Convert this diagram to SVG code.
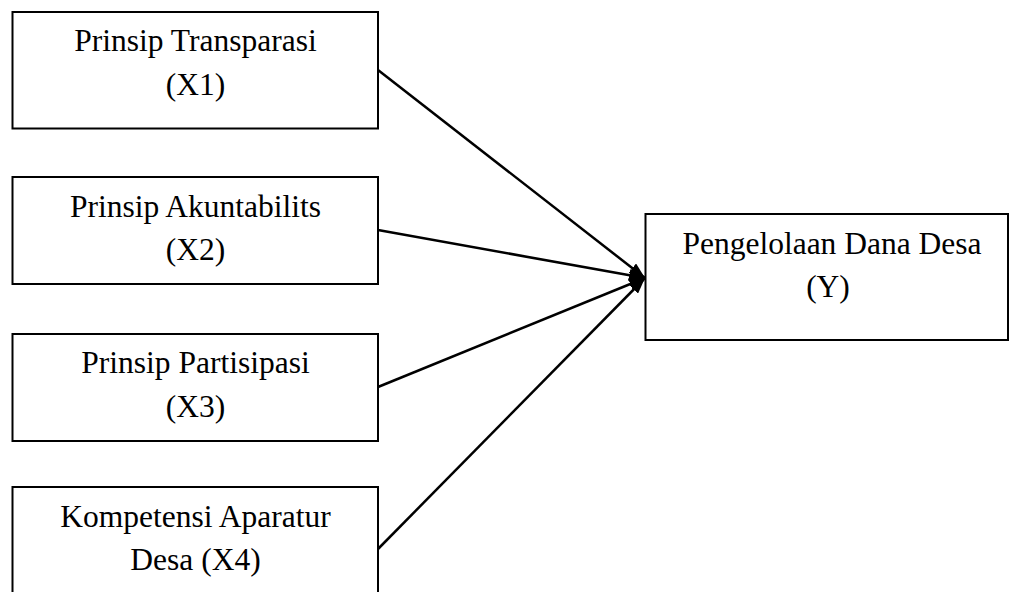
<svg xmlns="http://www.w3.org/2000/svg" width="1011" height="592" viewBox="0 0 1011 592">
<style>
.box{fill:#fff;stroke:#000;stroke-width:2}
.t{font-family:"Liberation Serif","Times New Roman",serif;font-size:31.5px;fill:#000;text-anchor:middle}
.c{stroke:#000;stroke-width:2.5;fill:none;marker-end:url(#ah)}
</style>
<defs>
<marker id="ah" viewBox="0 0 16 12" refX="16" refY="6" markerWidth="16" markerHeight="12" markerUnits="userSpaceOnUse" orient="auto">
<path d="M0,0 L16,6 L0,12 z" fill="#000"/>
</marker>
</defs>
<rect width="1011" height="592" fill="#fff"/>
<g id="x1">
<rect class="box" x="12.5" y="12" width="365.5" height="116.5"/>
<text class="t" x="195.5" y="51">Prinsip Transparasi</text>
<text class="t" x="195.5" y="95">(X1)</text>
</g>
<g id="x2">
<rect class="box" x="12.5" y="177" width="365.5" height="107"/>
<text class="t" x="195.5" y="216.5">Prinsip Akuntabilits</text>
<text class="t" x="195.5" y="260">(X2)</text>
</g>
<g id="x3">
<rect class="box" x="12.5" y="334" width="365.5" height="107"/>
<text class="t" x="195.5" y="373">Prinsip Partisipasi</text>
<text class="t" x="195.5" y="416.5">(X3)</text>
</g>
<g id="x4">
<rect class="box" x="12.5" y="487" width="365.5" height="110"/>
<text class="t" x="195.5" y="527">Kompetensi Aparatur</text>
<text class="t" x="195.5" y="570">Desa (X4)</text>
</g>
<g id="y">
<rect class="box" x="645.5" y="214" width="362.5" height="126"/>
<text class="t" x="832" y="253.5">Pengelolaan Dana Desa</text>
<text class="t" x="828" y="297">(Y)</text>
</g>
<g id="connectors">
<line class="c" x1="378" y1="70" x2="645" y2="278"/>
<line class="c" x1="378" y1="230" x2="645" y2="278"/>
<line class="c" x1="378" y1="387" x2="645" y2="278"/>
<line class="c" x1="378" y1="549" x2="645" y2="278"/>
</g>
</svg>
